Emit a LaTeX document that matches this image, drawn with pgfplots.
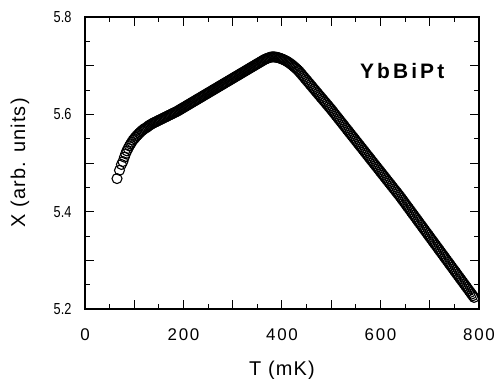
\documentclass[border=0pt]{standalone}
\usepackage{pgfplots}
\pgfplotsset{compat=1.18}
\usepackage{fontspec}
\setmainfont{Liberation Sans}
\newfontfamily\tickfont[LetterSpace=10]{Liberation Sans}
\newfontfamily\labfont[LetterSpace=6]{Liberation Sans}
\newfontfamily\boldsp[LetterSpace=15]{Liberation Sans}
\begin{document}
\begin{tikzpicture}
\begin{axis}[
  width=394bp, height=292bp, scale only axis,
  xmin=0, xmax=800, ymin=5.2, ymax=5.8,
  xtick={0,100,...,800}, xticklabels={0,,200,,400,,600,,800},
  ytick={5.2,5.3,5.4,5.5,5.6,5.7,5.8}, yticklabels={5.2,,5.4,,5.6,,5.8},
  minor x tick num=1, minor y tick num=1,
  tick align=inside, major tick length=9bp, minor tick length=5bp,
  axis line style={line width=1.8bp},
  tick style={line width=1bp, black},
  xticklabel style={font=\tickfont\fontsize{17}{17}\selectfont, anchor=center, yshift=-26bp},
  yticklabel style={font=\fontsize{16}{16}\selectfont, xscale=0.8, anchor=center, xshift=-28bp},
  xlabel={T (mK)}, ylabel={X (arb. units)},
  every axis x label/.style={at={(axis description cs:0.5,-0.209)}, anchor=center, font=\labfont\fontsize{20}{20}\selectfont},
  every axis y label/.style={at={(axis description cs:-0.165,0.5)}, rotate=90, anchor=center, font=\labfont\fontsize{20}{20}\selectfont},
]
\addplot[only marks, mark=o, mark size=5bp, mark options={line width=1.1bp, black}] table {
T chi
65 5.468
70 5.485
74 5.497
77 5.503
80 5.512
82.5 5.519
85 5.525
87.5 5.530
90 5.535
92.5 5.539
95 5.543
97.5 5.547
100 5.550
102.5 5.553
105 5.556
107.5 5.5585
110 5.561
112.5 5.5635
115 5.566
117.5 5.568
120 5.570
122.5 5.5715
125 5.573
127.5 5.575
130 5.577
132.5 5.5785
135 5.580
137.5 5.5815
140 5.583
142.5 5.584
145 5.585
147.5 5.5865
150 5.588
152.5 5.589
155 5.590
157.5 5.5915
160 5.593
162.5 5.594
165 5.595
167.5 5.5965
170 5.598
172.5 5.599
175 5.600
177.5 5.6015
180 5.603
182.5 5.604
185 5.605
187.5 5.6065
190 5.608
192.5 5.6095
195 5.611
197.5 5.6125
200 5.614
202.5 5.6155
205 5.617
207.5 5.6185
210 5.620
212.5 5.6215
215 5.623
217.5 5.6245
220 5.626
222.5 5.6275
225 5.629
227.5 5.6305
230 5.632
232.5 5.6335
235 5.635
237.5 5.6365
240 5.638
242.5 5.6395
245 5.641
247.5 5.6425
250 5.644
252.5 5.6455
255 5.647
257.5 5.6485
260 5.650
262.5 5.6515
265 5.653
267.5 5.6545
270 5.656
272.5 5.6575
275 5.659
277.5 5.6605
280 5.662
282.5 5.6635
285 5.665
287.5 5.6665
290 5.668
292.5 5.6695
295 5.671
297.5 5.6725
300 5.674
302.5 5.6755
305 5.677
307.5 5.6785
310 5.680
312.5 5.6815
315 5.683
317.5 5.6845
320 5.686
322.5 5.6875
325 5.689
327.5 5.6905
330 5.692
332.5 5.6935
335 5.695
337.5 5.6965
340 5.698
342.5 5.6995
345 5.701
347.5 5.7025
350 5.704
352.5 5.7055
355 5.707
357.5 5.7085
360 5.710
362.5 5.7115
365 5.713
367.5 5.714
370 5.715
372.5 5.716
375 5.717
377.5 5.7176
380 5.718
382.5 5.7181
385 5.7178
387.5 5.7175
390 5.7170
392.5 5.7164
395 5.7156
397.5 5.7148
400 5.7138
402.5 5.7127
405 5.7115
407.5 5.7102
410 5.7088
412.5 5.7072
415 5.7055
417.5 5.7037
420 5.7018
422.5 5.6997
425 5.6975
427.5 5.6953
430 5.693
432.5 5.6905
435 5.688
437.5 5.685
440 5.682
442.5 5.679
445 5.676
447.5 5.673
450 5.670
452.5 5.667
455 5.664
457.5 5.661
460 5.658
462.5 5.655
465 5.652
467.5 5.649
470 5.646
472.5 5.643
475 5.640
477.5 5.637
480 5.634
482.5 5.631
485 5.628
487.5 5.625
490 5.622
492.5 5.619
495 5.616
497.5 5.613
500 5.610
502.5 5.6068
505 5.6036
507.5 5.6004
510 5.5972
512.5 5.594
515 5.5908
517.5 5.5876
520 5.5844
522.5 5.5812
525 5.578
527.5 5.5748
530 5.5716
532.5 5.5684
535 5.5652
537.5 5.562
540 5.5588
542.5 5.5556
545 5.5524
547.5 5.5492
550 5.546
552.5 5.5428
555 5.5396
557.5 5.5364
560 5.5332
562.5 5.53
565 5.5268
567.5 5.5236
570 5.5204
572.5 5.5172
575 5.514
577.5 5.5108
580 5.5076
582.5 5.5044
585 5.5012
587.5 5.498
590 5.4948
592.5 5.4916
595 5.4884
597.5 5.4852
600 5.482
602.5 5.4788
605 5.4756
607.5 5.4724
610 5.4692
612.5 5.466
615 5.4628
617.5 5.4596
620 5.4564
622.5 5.4532
625 5.45
627.5 5.4468
630 5.4436
632.5 5.4404
635 5.4372
637.5 5.434
640 5.4308
642.5 5.4274
645 5.4239
647.5 5.4205
650 5.417
652.5 5.4136
655 5.4101
657.5 5.4067
660 5.4032
662.5 5.3998
665 5.3963
667.5 5.3929
670 5.3894
672.5 5.386
675 5.3825
677.5 5.3791
680 5.3756
682.5 5.3722
685 5.3687
687.5 5.3653
690 5.3618
692.5 5.3584
695 5.3549
697.5 5.3515
700 5.348
702.5 5.3446
705 5.3411
707.5 5.3377
710 5.3342
712.5 5.3308
715 5.3273
717.5 5.3239
720 5.3204
722.5 5.317
725 5.3135
727.5 5.3101
730 5.3066
732.5 5.3032
735 5.2997
737.5 5.2963
740 5.2928
742.5 5.2894
745 5.2859
747.5 5.2825
750 5.279
752.5 5.2756
755 5.2721
757.5 5.2687
760 5.2652
762.5 5.2618
765 5.2583
767.5 5.2549
770 5.2514
772.5 5.248
775 5.2445
777.5 5.2411
780 5.2376
782.5 5.2342
785 5.2307
787.5 5.2273
790 5.2238
};
\node[font=\boldsp\bfseries\fontsize{21}{21}\selectfont] at (axis cs:644,5.689) {YbBiPt};
\end{axis}
\pgfresetboundingbox
\path (current axis.south west) ++(-85bp,-70bp) rectangle ++(502bp,379bp);
\end{tikzpicture}
\end{document}
